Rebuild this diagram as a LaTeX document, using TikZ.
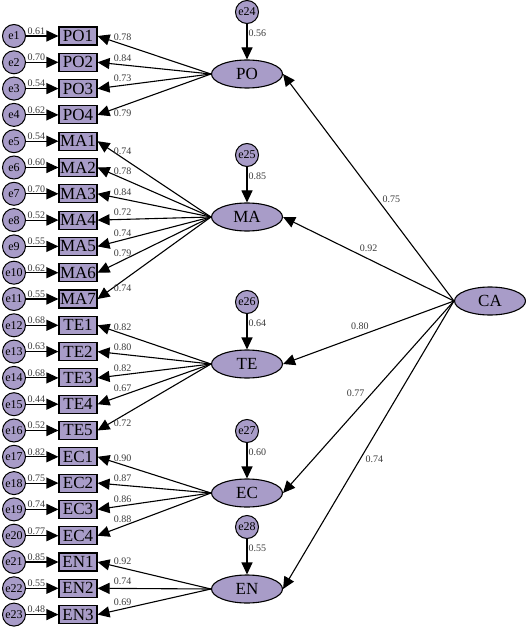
\documentclass[tikz,border=0pt]{standalone}
\usepackage{fontspec}
\setmainfont{Liberation Serif}
\usetikzlibrary{arrows.meta,shapes.geometric}

\definecolor{semfill}{RGB}{168,156,200}
\definecolor{wgtgray}{RGB}{60,60,60}

\newcommand{\lvfont}{\fontsize{17}{20}\selectfont}
\newcommand{\efont}{\fontsize{12}{14}\selectfont}
\newcommand{\wfont}{\fontsize{10}{12}\selectfont}

\tikzset{
  lat/.style={ellipse,draw,line width=1.1pt,fill=semfill,minimum width=71pt,minimum height=28pt,inner sep=0pt,font=\lvfont},
  obs/.style={rectangle,draw,line width=1.1pt,fill=semfill,minimum width=38pt,minimum height=18pt,inner sep=0pt,font=\lvfont},
  errc/.style={circle,draw,line width=1pt,fill=semfill,minimum size=23pt,inner sep=0pt,font=\efont},
  wgt/.style={font=\wfont,text=wgtgray,inner sep=1pt},
  arr/.style={line width=1.1pt,-{Triangle[length=12pt,width=11pt]}}
}

\begin{document}
\begin{tikzpicture}[x=1pt,y=-1pt]

% white background, size of the figure
\fill[white] (0,0) rectangle (526,628);
\useasboundingbox (0,0) rectangle (526,628);

% latent variables
\node[lat] (PO) at (247,74) {PO};
\node[lat] (MA) at (247,217) {MA};
\node[lat] (TE) at (247,364) {TE};
\node[lat] (EC) at (247,493) {EC};
\node[lat] (EN) at (247,589) {EN};
\node[lat] (CA) at (490,301) {CA};

% disturbances of the first order factors
\foreach \lv/\e/\w in {PO/24/0.56,MA/25/0.85,TE/26/0.64,EC/27/0.60,EN/28/0.55} {
	\node[errc] (e\e) at ([yshift=62pt]\lv) {e\e};
	\draw[arr] (e\e) -- node[wgt,right,pos=0.27] {\w} (\lv);
}

% indicators with their error terms
\foreach \i/\ind/\lv/\err/\load/\side in {
	1/PO1/PO/0.61/0.78/above, 2/PO2/PO/0.70/0.84/above, 3/PO3/PO/0.54/0.73/above, 4/PO4/PO/0.62/0.79/below,
	5/MA1/MA/0.54/0.74/above, 6/MA2/MA/0.60/0.78/above, 7/MA3/MA/0.70/0.84/above, 8/MA4/MA/0.52/0.72/above,
	9/MA5/MA/0.55/0.74/above, 10/MA6/MA/0.62/0.79/above, 11/MA7/MA/0.55/0.74/below,
	12/TE1/TE/0.68/0.82/above, 13/TE2/TE/0.63/0.80/above, 14/TE3/TE/0.68/0.82/above, 15/TE4/TE/0.44/0.67/above,
	16/TE5/TE/0.52/0.72/below,
	17/EC1/EC/0.82/0.90/above, 18/EC2/EC/0.75/0.87/above, 19/EC3/EC/0.74/0.86/above, 20/EC4/EC/0.77/0.88/above,
	21/EN1/EN/0.85/0.92/above, 22/EN2/EN/0.55/0.74/above, 23/EN3/EN/0.48/0.69/above} {
	\node[obs] (\ind) at (78,{36+(\i-1)*26.3}) {\ind};
	\node[errc] (e\i) at (14,{36+(\i-1)*26.3}) {e\i};
	\draw[arr] (e\i) -- node[wgt,above,pos=0.32] {\err} (\ind);
	\draw[arr] (\lv.west) -- node[wgt,\side=2pt,pos=0.78] {\load} (\ind.east);
}

% second order paths
\draw[arr] (CA.west) -- node[wgt,right=4pt,pos=0.45] {0.75} (PO.east);
\draw[arr] (CA.west) -- node[wgt,above=6pt,pos=0.5] {0.92} (MA.east);
\draw[arr] (CA.west) -- node[wgt,above=4pt,pos=0.55] {0.80} (TE.east);
\draw[arr] (CA.west) -- node[wgt,left=6pt,pos=0.48] {0.77} (EC.east);
\draw[arr] (CA.west) -- node[wgt,right=4pt,pos=0.55] {0.74} (EN.east);

\end{tikzpicture}
\end{document}
